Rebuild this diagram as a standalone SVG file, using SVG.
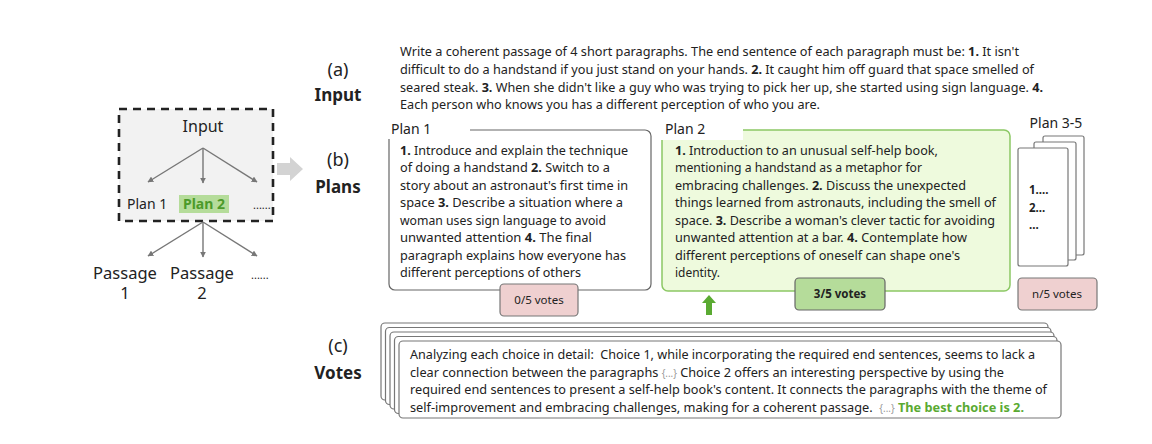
<svg xmlns="http://www.w3.org/2000/svg" width="1152" height="444" viewBox="0 0 1152 444">
<style>
text{font-family:"Noto Sans","Open Sans","DejaVu Sans",sans-serif;fill:#222;}
.t{font-size:13px;}
.b{font-weight:bold;}
.lbl{font-size:18px;text-anchor:middle;}
.lblb{font-size:17px;font-weight:bold;text-anchor:middle;}
.edge{stroke:#777;stroke-width:1.4;fill:none;marker-end:url(#ah);}
.card{fill:#fff;stroke:#777;stroke-width:1.2;}
.pink{fill:#efd0d0;stroke:#777;stroke-width:1.2;}
</style>
<defs>
<marker id="ah" viewBox="0 0 10 10" refX="9" refY="5" markerWidth="6" markerHeight="6" orient="auto-start-reverse" markerUnits="userSpaceOnUse">
<path d="M0,0 L10,5 L0,10 z" fill="#777"/>
</marker>
</defs>
<rect width="1152" height="444" fill="#fff"/>

<g id="overview">
<rect x="119" y="109" width="154" height="112" fill="#f2f2f2" stroke="#222" stroke-width="2.6" stroke-dasharray="8,6"/>
<text x="203" y="132" style="font-size:16px" text-anchor="middle">Input</text>
<rect x="179" y="195" width="50" height="18" fill="#b5dc9a"/>
<text x="127" y="209" style="font-size:14px">Plan 1</text>
<text x="204" y="209" style="font-size:14px;fill:#4c9a2a" class="b" text-anchor="middle">Plan 2</text>
<text x="253" y="209" style="font-size:11px">......</text>
<text x="125" y="279" style="font-size:16.5px" text-anchor="middle">Passage</text>
<text x="125" y="299" style="font-size:16.5px" text-anchor="middle">1</text>
<text x="202" y="279" style="font-size:16.5px" text-anchor="middle">Passage</text>
<text x="202" y="299" style="font-size:16.5px" text-anchor="middle">2</text>
<text x="251" y="279" style="font-size:11px">......</text>
</g>

<g id="connectors">
<path class="edge" d="M203,148 L148,182"/>
<path class="edge" d="M203,148 L203,183"/>
<path class="edge" d="M203,148 L257,182"/>
<path class="edge" d="M203,222 L148,256"/>
<path class="edge" d="M203,222 L203,257"/>
<path class="edge" d="M203,222 L257,256"/>
<path d="M277,163 L290,163 L290,157 L303,169 L290,181 L290,175 L277,175 z" fill="#d3d3d3"/>
<path d="M709,295 L716,303 L712,303 L712,315 L706,315 L706,303 L702,303 z" fill="#5aaa32"/>
</g>

<g id="labels">
<text class="lbl" x="338" y="76">(a)</text>
<text class="lblb" x="338" y="101">Input</text>
<text class="lbl" x="338" y="166">(b)</text>
<text class="lblb" x="338" y="193">Plans</text>
<text class="lbl" x="338" y="352">(c)</text>
<text class="lblb" x="338" y="379">Votes</text>
</g>

<g id="input">
<text class="t" x="400" y="56" textLength="619" lengthAdjust="spacingAndGlyphs">Write a coherent passage of 4 short paragraphs. The end sentence of each paragraph must be: <tspan class="b">1.</tspan> It isn't</text>
<text class="t" x="400" y="74" textLength="634" lengthAdjust="spacingAndGlyphs">difficult to do a handstand if you just stand on your hands. <tspan class="b">2.</tspan> It caught him off guard that space smelled of</text>
<text class="t" x="400" y="92" textLength="643" lengthAdjust="spacingAndGlyphs">seared steak. <tspan class="b">3.</tspan> When she didn't like a guy who was trying to pick her up, she started using sign language. <tspan class="b">4.</tspan></text>
<text class="t" x="400" y="109" textLength="420" lengthAdjust="spacingAndGlyphs">Each person who knows you has a different perception of who you are.</text>
</g>

<g id="plan1">
<rect x="389" y="130" width="262" height="160" rx="6" fill="#fff" stroke="#666" stroke-width="1.2"/>
<rect x="383" y="116" width="87" height="23" fill="#fff"/>
<text x="391" y="134" style="font-size:14px">Plan 1</text>
<text class="t" x="400" y="155" textLength="228" lengthAdjust="spacingAndGlyphs"><tspan class="b">1.</tspan> Introduce and explain the technique</text>
<text class="t" x="400" y="172" textLength="210" lengthAdjust="spacingAndGlyphs">of doing a handstand <tspan class="b">2.</tspan> Switch to a</text>
<text class="t" x="400" y="190" textLength="228" lengthAdjust="spacingAndGlyphs">story about an astronaut's first time in</text>
<text class="t" x="400" y="207" textLength="223" lengthAdjust="spacingAndGlyphs">space <tspan class="b">3.</tspan> Describe a situation where a</text>
<text class="t" x="400" y="225" textLength="206" lengthAdjust="spacingAndGlyphs">woman uses sign language to avoid</text>
<text class="t" x="400" y="242" textLength="192" lengthAdjust="spacingAndGlyphs">unwanted attention <tspan class="b">4.</tspan> The final</text>
<text class="t" x="400" y="260" textLength="226" lengthAdjust="spacingAndGlyphs">paragraph explains how everyone has</text>
<text class="t" x="400" y="277" textLength="181" lengthAdjust="spacingAndGlyphs">different perceptions of others</text>
</g>
<g id="votes1">
<rect x="500" y="284" width="78" height="32" rx="4" class="pink"/>
<text x="539" y="304" style="font-size:11.5px" text-anchor="middle">0/5 votes</text>
</g>

<g id="plan2">
<rect x="662" y="130" width="348" height="161" rx="6" fill="#eefadd" stroke="#8cc864" stroke-width="1.5"/>
<rect x="655" y="116" width="88" height="24" fill="#fff"/>
<text x="665" y="134" style="font-size:14px">Plan 2</text>
<text class="t" x="675" y="155" textLength="263" lengthAdjust="spacingAndGlyphs"><tspan class="b">1.</tspan> Introduction to an unusual self-help book,</text>
<text class="t" x="675" y="172" textLength="247" lengthAdjust="spacingAndGlyphs">mentioning a handstand as a metaphor for</text>
<text class="t" x="675" y="190" textLength="291" lengthAdjust="spacingAndGlyphs">embracing challenges. <tspan class="b">2.</tspan> Discuss the unexpected</text>
<text class="t" x="675" y="207" textLength="321" lengthAdjust="spacingAndGlyphs">things learned from astronauts, including the smell of</text>
<text class="t" x="675" y="225" textLength="320" lengthAdjust="spacingAndGlyphs">space. <tspan class="b">3.</tspan> Describe a woman's clever tactic for avoiding</text>
<text class="t" x="675" y="242" textLength="292" lengthAdjust="spacingAndGlyphs">unwanted attention at a bar. <tspan class="b">4.</tspan> Contemplate how</text>
<text class="t" x="675" y="260" textLength="285" lengthAdjust="spacingAndGlyphs">different perceptions of oneself can shape one's</text>
<text class="t" x="675" y="277" textLength="45" lengthAdjust="spacingAndGlyphs">identity.</text>
</g>
<g id="votes2">
<rect x="795" y="278" width="90" height="32" rx="4" fill="#b5dc9a" stroke="#666" stroke-width="1.2"/>
<text x="840" y="298" style="font-size:11.5px" class="b" text-anchor="middle">3/5 votes</text>
</g>

<g id="plan35">
<text x="1056" y="128" style="font-size:14px" text-anchor="middle">Plan 3-5</text>
<rect x="1043" y="136" width="41" height="119" rx="2" class="card"/>
<rect x="1034" y="142" width="42" height="118" rx="2" class="card"/>
<rect x="1018" y="148" width="50" height="118" rx="2" class="card"/>
<text x="1029" y="194" style="font-size:11.5px" class="b">1....</text>
<text x="1029" y="212" style="font-size:11.5px" class="b">2...</text>
<text x="1029" y="229" style="font-size:11.5px" class="b">...</text>
</g>
<g id="votes35">
<rect x="1018" y="278" width="79" height="32" rx="4" class="pink"/>
<text x="1057" y="298" style="font-size:11.5px" text-anchor="middle">n/5 votes</text>
</g>

<g id="votes">
<rect x="381" y="323" width="667" height="77" rx="4" class="card"/>
<rect x="385.5" y="327.5" width="665.5" height="77" rx="4" class="card"/>
<rect x="390" y="332" width="664" height="77" rx="4" class="card"/>
<rect x="394.5" y="336.5" width="662.5" height="77" rx="4" class="card"/>
<rect x="399" y="341" width="662" height="77" rx="4" class="card"/>
<text class="t" x="410" y="359" textLength="625" lengthAdjust="spacingAndGlyphs">Analyzing each choice in detail: &#160;Choice 1, while incorporating the required end sentences, seems to lack a</text>
<text class="t" x="410" y="377" textLength="594" lengthAdjust="spacingAndGlyphs">clear connection between the paragraphs <tspan style="fill:#999;font-size:10px">{...}</tspan> Choice 2 offers an interesting perspective by using the</text>
<text class="t" x="410" y="394" textLength="637" lengthAdjust="spacingAndGlyphs">required end sentences to present a self-help book's content. It connects the paragraphs with the theme of</text>
<text class="t" x="410" y="412" textLength="614" lengthAdjust="spacingAndGlyphs">self-improvement and embracing challenges, making for a coherent passage. &#160;<tspan style="fill:#999;font-size:10px">{...}</tspan> <tspan class="b" style="fill:#5aaa32">The best choice is 2.</tspan></text>
</g>
</svg>
